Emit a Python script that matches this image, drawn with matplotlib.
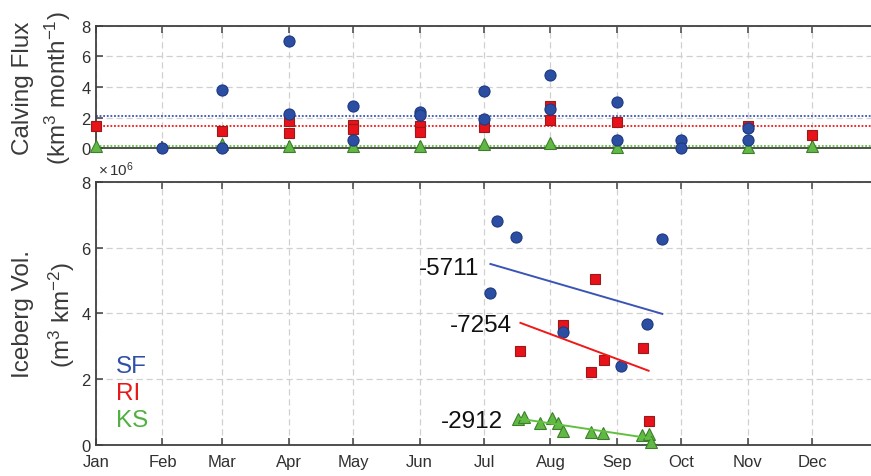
import numpy as np
import matplotlib.pyplot as plt

plt.rcParams['font.family'] = ['Liberation Sans', 'DejaVu Sans']
plt.rcParams['mathtext.fontset'] = 'custom'
plt.rcParams['mathtext.rm'] = 'Liberation Sans'
plt.rcParams['mathtext.it'] = 'Liberation Sans:italic'
plt.rcParams['mathtext.bf'] = 'Liberation Sans:bold'

# ---- axis definitions -------------------------------------------------------
month_labels = ['Jan', 'Feb', 'Mar', 'Apr', 'May', 'Jun',
                'Jul', 'Aug', 'Sep', 'Oct', 'Nov', 'Dec']
month_start = [0, 31, 59, 90, 120, 151, 181, 212, 243, 273, 304, 334]

# ---- monthly calving flux (km^3 month^-1), x = day of year of month start ----
sf_flux_day = [31, 59, 59, 90, 90, 120, 120, 151, 151, 181, 181, 212, 212,
               243, 243, 273, 273, 304, 304]
sf_flux = [0.0, 3.79, 0.0, 6.97, 2.24, 2.75, 0.56, 2.35, 2.16, 3.72, 1.90,
           4.79, 2.57, 3.05, 0.52, 0.52, 0.02, 1.31, 0.52]

ri_flux_day = [0, 59, 90, 90, 120, 120, 151, 151, 181, 212, 212, 243, 304, 334]
ri_flux = [1.44, 1.15, 1.80, 0.98, 1.55, 1.25, 1.48, 1.05, 1.41, 2.74, 1.87,
           1.74, 1.44, 0.87]

ks_flux_day = [0, 59, 90, 120, 151, 181, 212, 243, 304, 334]
ks_flux = [0.15, 0.30, 0.15, 0.12, 0.18, 0.30, 0.35, 0.08, 0.08, 0.12]

# mean flux reference levels
sf_flux_mean = 2.09
ri_flux_mean = 1.44
ks_flux_mean = 0.15

# ---- iceberg volume (x10^6 m^3 km^-2), x = day of year ----------------------
sf_vol_day = [187.1, 195.9, 264.2, 184.0, 218.0, 256.9, 244.9]
sf_vol = [6.80, 6.32, 6.26, 4.63, 3.44, 3.67, 2.41]

ri_vol_day = [198.0, 218.0, 233.0, 231.0, 236.8, 255.0, 257.8]
ri_vol = [2.86, 3.65, 5.05, 2.22, 2.59, 2.95, 0.73]

ks_vol_day = [197.0, 199.8, 207.0, 212.9, 215.7, 218.0, 231.0, 236.7,
              254.9, 258.0, 259.0]
ks_vol = [0.79, 0.84, 0.67, 0.81, 0.67, 0.42, 0.39, 0.36, 0.31, 0.33, 0.10]

# trend annotations
trend_labels = ['-5711', '-7254', '-2912']
trend_label_pos = [(179.0, 5.39), (194.0, 3.65), (190.0, 0.72)]

names = ['SF', 'RI', 'KS']
name_pos = [(9.3, 2.39), (9.3, 1.58), (9.3, 0.76)]

# ---- styling ---------------------------------------------------------------
c_sf, c_sf_edge, c_sf_line = '#2B4DA2', '#1E3A80', '#3A55B5'
c_ri, c_ri_edge, c_ri_line = '#E8121A', '#9A1A1A', '#F01818'
c_ks, c_ks_edge, c_ks_line = '#62B845', '#3C7F2A', '#62C040'
txt_sf, txt_ri, txt_ks = '#3050A8', '#E81818', '#50B040'
axis_col = '#404040'
grid_col = '#D0D0D0'

W, H = 871, 477
fig = plt.figure(figsize=(W / 100, H / 100), dpi=100)

left = 96 / W
width = (878.4 - 96) / W
ax_top = fig.add_axes([left, (H - 149.3) / H, width, (149.3 - 26.7) / H])
ax_bot = fig.add_axes([left, (H - 446.0) / H, width, (446.0 - 182.7) / H])


def style_axes(ax):
    ax.set_xlim(0, 365)
    ax.set_ylim(0, 8)
    ax.set_xticks(month_start)
    ax.set_yticks([0, 2, 4, 6, 8])
    ax.grid(True, color=grid_col, linestyle=(0, (5, 3)), linewidth=0.9)
    ax.set_axisbelow(True)
    for s in ax.spines.values():
        s.set_color(axis_col)
        s.set_linewidth(1.3)
    ax.tick_params(direction='in', length=5, width=1.1, color=axis_col,
                   top=True, right=True, labelsize=12, labelcolor='#303030',
                   pad=4)
    ax.tick_params(axis='x', pad=6.5)


style_axes(ax_top)
style_axes(ax_bot)
ax_top.set_xticklabels([])
ax_bot.set_xticklabels(month_labels)

mk = dict(linestyle='none', markeredgewidth=0.8)

# top panel: mean levels and monthly flux
ax_top.axhline(sf_flux_mean, color=c_sf_line, linestyle=(0, (1, 1)), lw=1.3, zorder=2)
ax_top.axhline(ri_flux_mean, color=c_ri_line, linestyle=(0, (1, 1)), lw=1.3, zorder=2)
ax_top.axhline(ks_flux_mean, color=c_ks_line, linestyle=(0, (1, 1)), lw=1.3, zorder=2)
ax_top.plot(ks_flux_day, ks_flux, marker='^', markersize=9, color=c_ks,
            markeredgecolor=c_ks_edge, clip_on=False, zorder=3, **mk)
ax_top.plot(ri_flux_day, ri_flux, marker='s', markersize=6.5, color=c_ri,
            markeredgecolor=c_ri_edge, clip_on=False, zorder=4, **mk)
ax_top.plot(sf_flux_day, sf_flux, marker='o', markersize=8, color=c_sf,
            markeredgecolor=c_sf_edge, clip_on=False, zorder=5, **mk)

# bottom panel: iceberg volume with linear trends
ax_bot.plot(ks_vol_day, ks_vol, marker='^', markersize=9, color=c_ks,
            markeredgecolor=c_ks_edge, clip_on=False, zorder=3, **mk)
ax_bot.plot(ri_vol_day, ri_vol, marker='s', markersize=6.5, color=c_ri,
            markeredgecolor=c_ri_edge, clip_on=False, zorder=4, **mk)
ax_bot.plot(sf_vol_day, sf_vol, marker='o', markersize=8, color=c_sf,
            markeredgecolor=c_sf_edge, clip_on=False, zorder=5, **mk)

for days, vals, col in [(sf_vol_day, sf_vol, c_sf_line),
                        (ri_vol_day, ri_vol, c_ri_line),
                        (ks_vol_day, ks_vol, c_ks_line)]:
    p = np.polyfit(days, vals, 1)
    xs = np.array([min(days), max(days)])
    ax_bot.plot(xs, np.polyval(p, xs), color=col, lw=1.4, zorder=6)

for lab, (x, y) in zip(trend_labels, trend_label_pos):
    ax_bot.text(x, y, lab, ha='right', va='center', fontsize=17.5,
                color='#111111', zorder=7)

for nm, (x, y), col in zip(names, name_pos, [txt_sf, txt_ri, txt_ks]):
    ax_bot.text(x, y, nm, ha='left', va='center', fontsize=17.5, color=col)

ax_bot.text(0.002, 1.015, r'$\times\,10^{6}$', transform=ax_bot.transAxes,
            ha='left', va='bottom', fontsize=11, color='#303030')

# y-axis titles
lab_col = '#3A3A3A'
fig.text(23 / W, (H - 88) / H, 'Calving Flux', rotation=90, ha='center',
         va='center', fontsize=17.5, color=lab_col)
fig.text(57.5 / W, (H - 88) / H, r'(km$^{3}$ month$^{-1}$)', rotation=90,
         ha='center', va='center', fontsize=17.5, color=lab_col)
fig.text(23 / W, (H - 314.4) / H, 'Iceberg Vol.', rotation=90, ha='center',
         va='center', fontsize=17.5, color=lab_col)
fig.text(62 / W, (H - 314.4) / H, r'(m$^{3}$ km$^{-2}$)', rotation=90,
         ha='center', va='center', fontsize=17.5, color=lab_col)

fig.savefig('out.png', dpi=100)
